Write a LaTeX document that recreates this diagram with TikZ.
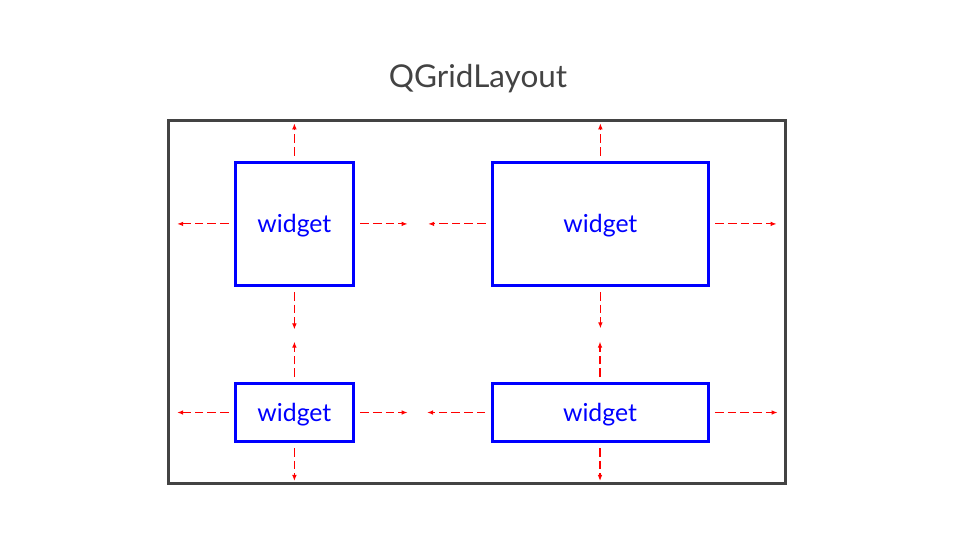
\documentclass[tikz,border=0pt]{standalone}
\usepackage{fontspec}
\setmainfont{Lato}
\usetikzlibrary{positioning, arrows.meta}
\definecolor{framegray}{HTML}{434343}
\definecolor{widgetblue}{HTML}{0000FF}
\definecolor{stretchred}{HTML}{FF0000}

\begin{document}
\begin{tikzpicture}[x=0.75pt, y=-0.75pt,
    widget/.style={draw=widgetblue, line width=2.25pt, text=widgetblue,
        font=\fontsize{18.6}{18.6}\selectfont, text height=13.2pt, text depth=0pt, inner sep=0pt},
    grid/.style={draw=framegray, line width=2.25pt, inner sep=0pt,
        minimum width=462.3pt, minimum height=272.5pt},
    title/.style={text=framegray, font=\fontsize{23.6}{23.6}\selectfont},
    stretch/.style={draw=stretchred, line width=0.8pt, dash pattern=on 6.5pt off 3pt,
        -{Latex[length=4.5pt,width=3.5pt]}, shorten <=4pt}]
    \useasboundingbox (0,0) rectangle (960,540);

    \node[title, anchor=base] (title) at (478,87) {QGridLayout};
    \node[grid] (grid) at (477,302.2) {};

    % widgets in the grid
    \node[widget, minimum width=88.5pt, minimum height=92pt] (w1) at (294.4,223.9) {widget};
    \node[widget, minimum width=162pt, minimum height=92pt] (w2) at (600.4,223.9) {widget};
    \node[widget, minimum width=88.5pt, minimum height=43pt] (w3) at (294.4,412.5) {widget};
    \node[widget, minimum width=162pt, minimum height=43pt] (w4) at (600,412.5) {widget};

    % stretch arrows
    \foreach \n/\lft/\rgt/\up/\dn in {w1/42.5/39.5/28.3/32, w2/47/50/28.3/31.2,
                                        w3/42.5/39.5/30.5/28.7, w4/47.5/51/30.5/28.7} {
        \coordinate[left=\lft pt of \n] (\n l);
        \coordinate[right=\rgt pt of \n] (\n r);
        \coordinate[above=\up pt of \n] (\n u);
        \coordinate[below=\dn pt of \n] (\n d);
        \draw[stretch] (\n.west) -- (\n l);
        \draw[stretch] (\n.east) -- (\n r);
        \draw[stretch] (\n.north) -- (\n u);
        \draw[stretch] (\n.south) -- (\n d);
    }
\end{tikzpicture}
\end{document}
